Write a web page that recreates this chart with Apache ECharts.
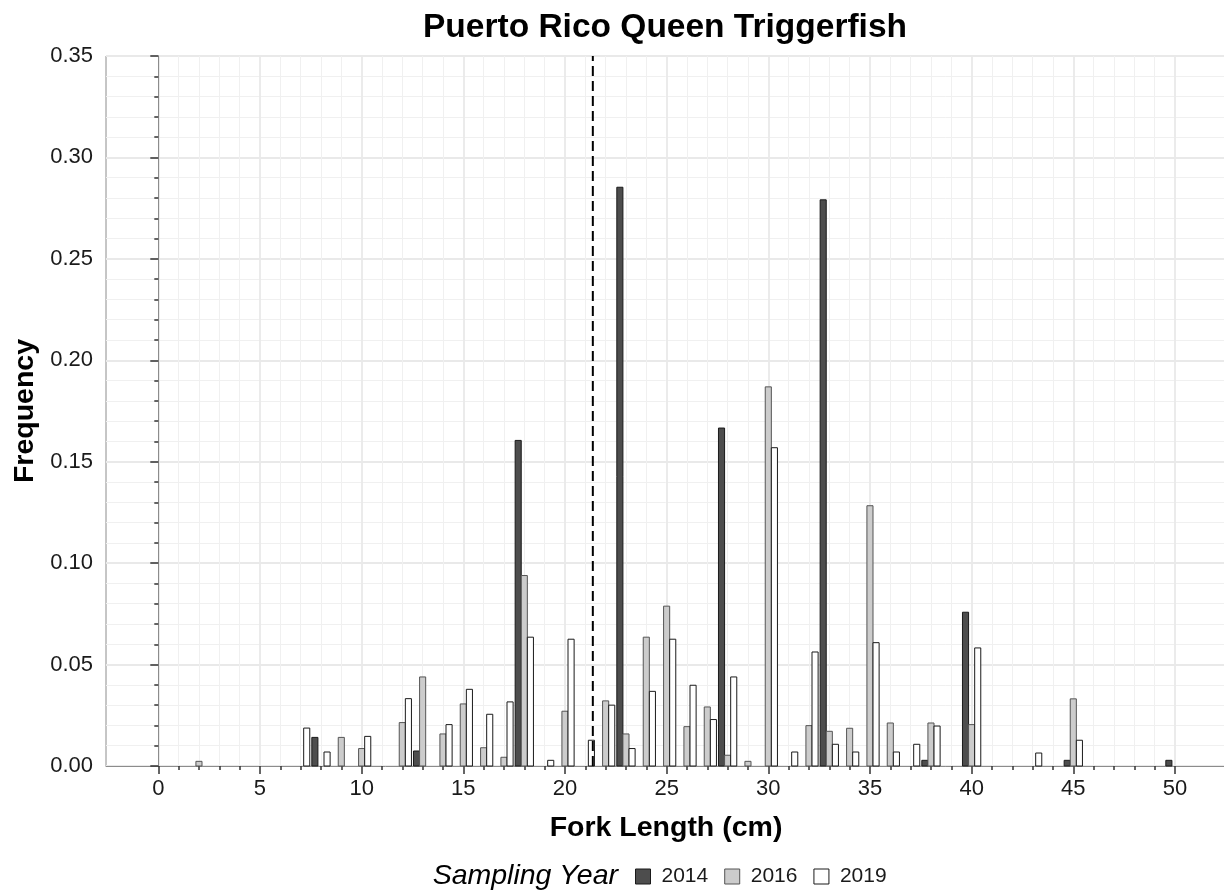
<!DOCTYPE html>
<html>
<head>
<meta charset="utf-8">
<script src="https://cdn.jsdelivr.net/npm/echarts@6/dist/echarts.min.js"></script>
<style>
  html, body { margin: 0; padding: 0; background: #ffffff; }
  #chart { width: 1224px; height: 894px; }
</style>
</head>
<body>
<div id="chart"></div>
<script>
// ---------------- DATA ----------------
const chartTitle = 'Puerto Rico Queen Triggerfish';
const xTitle = 'Fork Length (cm)';
const yTitle = 'Frequency';
const legendTitle = 'Sampling Year';
const years = ['2014', '2016', '2019'];

const len2014  = [8, 13, 18, 23, 28, 33, 38, 40, 45, 50];
const freq2014 = [0.0141, 0.0074, 0.1605, 0.2853, 0.1666, 0.2791, 0.0028, 0.0758, 0.0028, 0.0028];

const len2016  = [2, 9, 10, 12, 13, 14, 15, 16, 17, 18, 20, 22, 23, 24, 25, 26, 27, 28, 29, 30, 32, 33, 34, 35, 36, 38, 40, 45];
const freq2016 = [0.0023, 0.0141, 0.0086, 0.0214, 0.0439, 0.0158, 0.0306, 0.0090, 0.0043, 0.0939, 0.0270, 0.0321, 0.0158, 0.0635, 0.0788, 0.0194, 0.0291, 0.0053, 0.0023, 0.1869, 0.0199, 0.0171, 0.0186, 0.1283, 0.0212, 0.0212, 0.0204, 0.0331];

const len2019  = [7, 8, 10, 12, 14, 15, 16, 17, 18, 19, 20, 21, 22, 23, 24, 25, 26, 27, 28, 30, 31, 32, 33, 34, 35, 36, 37, 38, 40, 43, 45];
const freq2019 = [0.0187, 0.0069, 0.0146, 0.0332, 0.0204, 0.0378, 0.0255, 0.0316, 0.0635, 0.0028, 0.0625, 0.0127, 0.0300, 0.0086, 0.0368, 0.0625, 0.0398, 0.0229, 0.0439, 0.1569, 0.0069, 0.0562, 0.0107, 0.0069, 0.0608, 0.0069, 0.0107, 0.0197, 0.0582, 0.0064, 0.0127];

const cutoffLength = 21.37;              // dashed reference line (cm)
const xMajorTicks = [0, 5, 10, 15, 20, 25, 30, 35, 40, 45, 50];
const yTickLabels = ['0.00', '0.05', '0.10', '0.15', '0.20', '0.25', '0.30', '0.35'];

// ---------------- STYLE ----------------
const fills   = ['#4d4d4d', '#cccccc', '#ffffff'];
const borders = ['#1a1a1a', '#555555', '#1a1a1a'];
const dodge = [-0.3, 0, 0.3];   // cm offset within a length bin
const barW = 0.3;               // bar width in cm
const xMin = -2.572, xMax = 52.51;
const yMin = 0, yMax = 0.35;
const FONT = '"Liberation Sans", Arial, sans-serif';

const xMinorTicks = [];
for (let v = 0; v <= 50; v++) { if (v % 5 !== 0) xMinorTicks.push(v); }

function pairs(xs, ys) { return xs.map((x, i) => [x, ys[i]]); }
const seriesData = [pairs(len2014, freq2014), pairs(len2016, freq2016), pairs(len2019, freq2019)];

function makeRender(k) {
  return function (params, api) {
    const x = api.value(0), y = api.value(1);
    const pTop = api.coord([x + dodge[k] - barW / 2, y]);
    const pBot = api.coord([x + dodge[k] + barW / 2, 0]);
    return {
      type: 'rect',
      shape: { x: pTop[0], y: pTop[1], width: pBot[0] - pTop[0], height: pBot[1] - pTop[1] },
      style: { fill: fills[k], stroke: borders[k], lineWidth: 1 }
    };
  };
}

const chart = echarts.init(document.getElementById('chart'), null, { renderer: 'canvas' });

const barSeries = years.map((yr, k) => ({
  name: yr,
  type: 'custom',
  xAxisIndex: 0,
  yAxisIndex: 0,
  renderItem: makeRender(k),
  encode: { x: 0, y: 1 },
  itemStyle: { color: fills[k], borderColor: borders[k], borderWidth: 1 },
  data: seriesData[k],
  z: 3,
  silent: true
}));

const option = {
  animation: false,
  backgroundColor: '#ffffff',
  textStyle: { fontFamily: FONT },
  title: {
    text: chartTitle,
    left: 660,
    top: 6,
    textAlign: 'center',
    textStyle: { fontFamily: FONT, fontSize: 33.5, fontWeight: 'bold', color: '#000000' }
  },
  grid: {
    left: 106, right: -2, top: 56, bottom: 128,
    show: true, borderColor: '#8c8c8c', borderWidth: 1, backgroundColor: 'transparent',
    containLabel: false, outerBoundsMode: 'none'
  },
  legend: {
    left: 630, top: 861,
    icon: 'rect',
    itemWidth: 15, itemHeight: 15,
    itemGap: 16,
    selectedMode: false,
    data: years.map((yr, k) => ({ name: yr, itemStyle: { color: fills[k], borderColor: borders[k], borderWidth: 1 } })),
    textStyle: { fontFamily: FONT, fontSize: 21, color: '#1a1a1a', padding: [0, 0, 0, 6] }
  },
  graphic: [{
    type: 'text',
    x: 618, y: 876,
    style: {
      text: legendTitle,
      fontFamily: FONT, fontSize: 28.5, fontStyle: 'italic',
      fill: '#000000',
      textAlign: 'right', textVerticalAlign: 'middle',
      align: 'right', verticalAlign: 'middle'
    }
  }],
  xAxis: [{
    type: 'value', position: 'bottom', min: xMin, max: xMax,
    name: xTitle, nameLocation: 'middle', nameGap: 48,
    nameTextStyle: { fontFamily: FONT, fontSize: 28.5, fontWeight: 'bold', color: '#000000' },
    axisLine: { show: true, onZero: false, lineStyle: { color: '#8c8c8c', width: 1 } },
    axisTick: { show: true, customValues: xMajorTicks, length: 8, lineStyle: { color: '#333333', width: 1.5 } },
    axisLabel: { show: true, customValues: xMajorTicks, fontFamily: FONT, fontSize: 22, color: '#1a1a1a', margin: 12 },
    splitLine: { show: true, lineStyle: { color: '#e9e9e9', width: 1.8 } },
    minorTick: { show: false },
    minorSplitLine: { show: false }
  }, {
    type: 'value', position: 'bottom', min: xMin, max: xMax,
    axisLine: { show: false, onZero: false },
    axisTick: { show: true, customValues: xMinorTicks, length: 4, lineStyle: { color: '#333333', width: 1.5 } },
    axisLabel: { show: false },
    splitLine: { show: true, lineStyle: { color: '#f0f0f0', width: 1 } }
  }],
  yAxis: [{
    type: 'value', min: yMin, max: yMax, interval: 0.05,
    name: yTitle, nameLocation: 'middle', nameGap: 64, nameRotate: 90,
    nameTextStyle: { fontFamily: FONT, fontSize: 28.5, fontWeight: 'bold', color: '#000000' },
    axisLine: { show: true, lineStyle: { color: '#8c8c8c', width: 1 } },
    axisTick: { show: true, length: 8, lineStyle: { color: '#333333', width: 1.5 } },
    minorTick: { show: true, splitNumber: 5, length: 4, lineStyle: { color: '#333333', width: 1.5 } },
    axisLabel: {
      show: true, fontFamily: FONT, fontSize: 22, color: '#1a1a1a', margin: 13,
      showMinLabel: true, showMaxLabel: true,
      formatter: function (v) { return yTickLabels[Math.round(v / 0.05)]; }
    },
    splitLine: { show: true, lineStyle: { color: '#e9e9e9', width: 1.8 } },
    minorSplitLine: { show: true, lineStyle: { color: '#f0f0f0', width: 1 } }
  }],
  series: barSeries.concat([{
    name: 'cutoff',
    type: 'line',
    xAxisIndex: 0, yAxisIndex: 0,
    data: [[cutoffLength, yMin], [cutoffLength, yMax]],
    symbol: 'none',
    lineStyle: { color: '#000000', width: 2, type: [10, 5] },
    z: 5,
    silent: true
  }])
};

chart.setOption(option);
</script>
</body>
</html>
